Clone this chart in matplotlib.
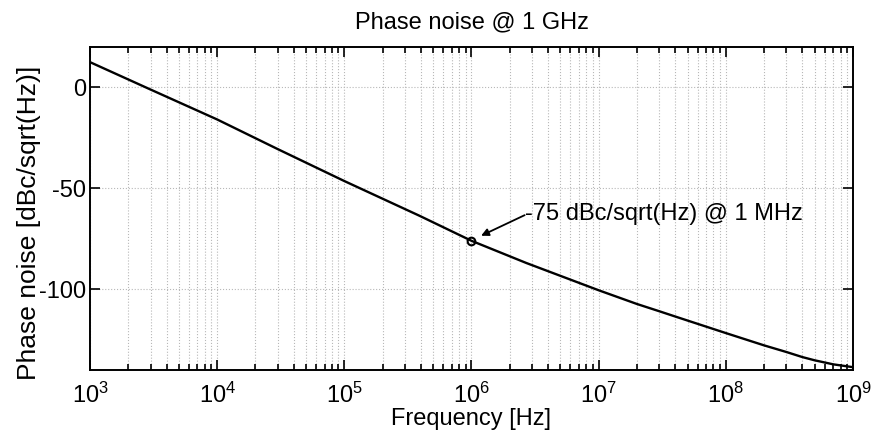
import numpy as np
import matplotlib
matplotlib.use('Agg')
import matplotlib.pyplot as plt
from matplotlib.ticker import FixedLocator, NullFormatter

plt.rcParams['font.family'] = ['Liberation Sans', 'DejaVu Sans']
plt.rcParams['mathtext.fontset'] = 'custom'
plt.rcParams['mathtext.rm'] = 'Liberation Sans'
plt.rcParams['mathtext.it'] = 'Liberation Sans'
plt.rcParams['axes.unicode_minus'] = False

# values
freq = [1e3, 3e3, 1e4, 3e4, 1e5, 3.9e5, 1e6, 2.7e6, 1e7, 2e7, 3e7, 4e7, 5e7,
        1e8, 2e8, 3e8, 4e8, 5e8, 7e8, 1e9]
noise = [12.5, -1.1, -15.9, -30.6, -46.4, -63.6, -76.0, -87.0, -100.5, -107.3,
         -110.9, -113.5, -115.5, -121.7, -127.8, -131.1, -133.6, -135.2,
         -137.2, -138.6]
mark_f = 1e6
mark_n = -76.0
label = '-75 dBc/sqrt(Hz) @ 1 MHz'
decades = [1e3, 1e4, 1e5, 1e6, 1e7, 1e8, 1e9]
xticklabels = ['$10^{3}$', '$10^{4}$', '$10^{5}$', '$10^{6}$', '$10^{7}$', '$10^{8}$', '$10^{9}$']
yticks = [-100, -50, 0]

fig = plt.figure(figsize=(8.71, 4.33), dpi=100)
ax = fig.add_axes([0.1033, 0.1455, 0.876, 0.746])

ax.semilogx(freq, noise, color='black', lw=1.7)
ax.plot([mark_f], [mark_n], 'o', mfc='none', mec='black', ms=5.5, mew=1.5)
# arrow from the start of the label to the marker
ax.annotate('', xy=(1.19e6, -73.5), xytext=(2.62e6, -63.3),
            arrowprops=dict(arrowstyle='-|>', color='black', lw=1.3,
                            shrinkA=0, shrinkB=0, mutation_scale=11))
ax.text(2.62e6, -62.8, label, fontsize=17, va='center', ha='left')

ax.set_xlim(1e3, 1e9)
ax.set_ylim(-140, 20)
minors = [d * k for d in decades[:-1] for k in range(2, 10)]
ax.xaxis.set_major_locator(FixedLocator(decades))
ax.set_xticklabels(xticklabels)
ax.xaxis.set_minor_locator(FixedLocator(minors))
ax.xaxis.set_minor_formatter(NullFormatter())
ax.yaxis.set_major_locator(FixedLocator(yticks))

ax.grid(True, which='major', axis='both', color='#b8b8b8', ls=':', lw=0.8)
ax.grid(True, which='minor', axis='x', color='#b8b8b8', ls=':', lw=0.8)

ax.tick_params(which='both', direction='in', top=True, right=True, width=1.2)
ax.tick_params(which='major', length=7)
ax.tick_params(which='minor', length=4)
ax.tick_params(axis='y', labelsize=17, pad=3)
ax.tick_params(axis='x', labelsize=17, pad=9)
for s in ax.spines.values():
    s.set_linewidth(1.4)

ax.set_title('Phase noise @ 1 GHz', fontsize=17, pad=13)
ax.set_xlabel('Frequency [Hz]', fontsize=17, labelpad=0)
ax.set_ylabel('Phase noise [dBc/sqrt(Hz)]', fontsize=19)
ax.yaxis.set_label_coords(-0.064, 0.454)

fig.savefig('out.png', dpi=100)
